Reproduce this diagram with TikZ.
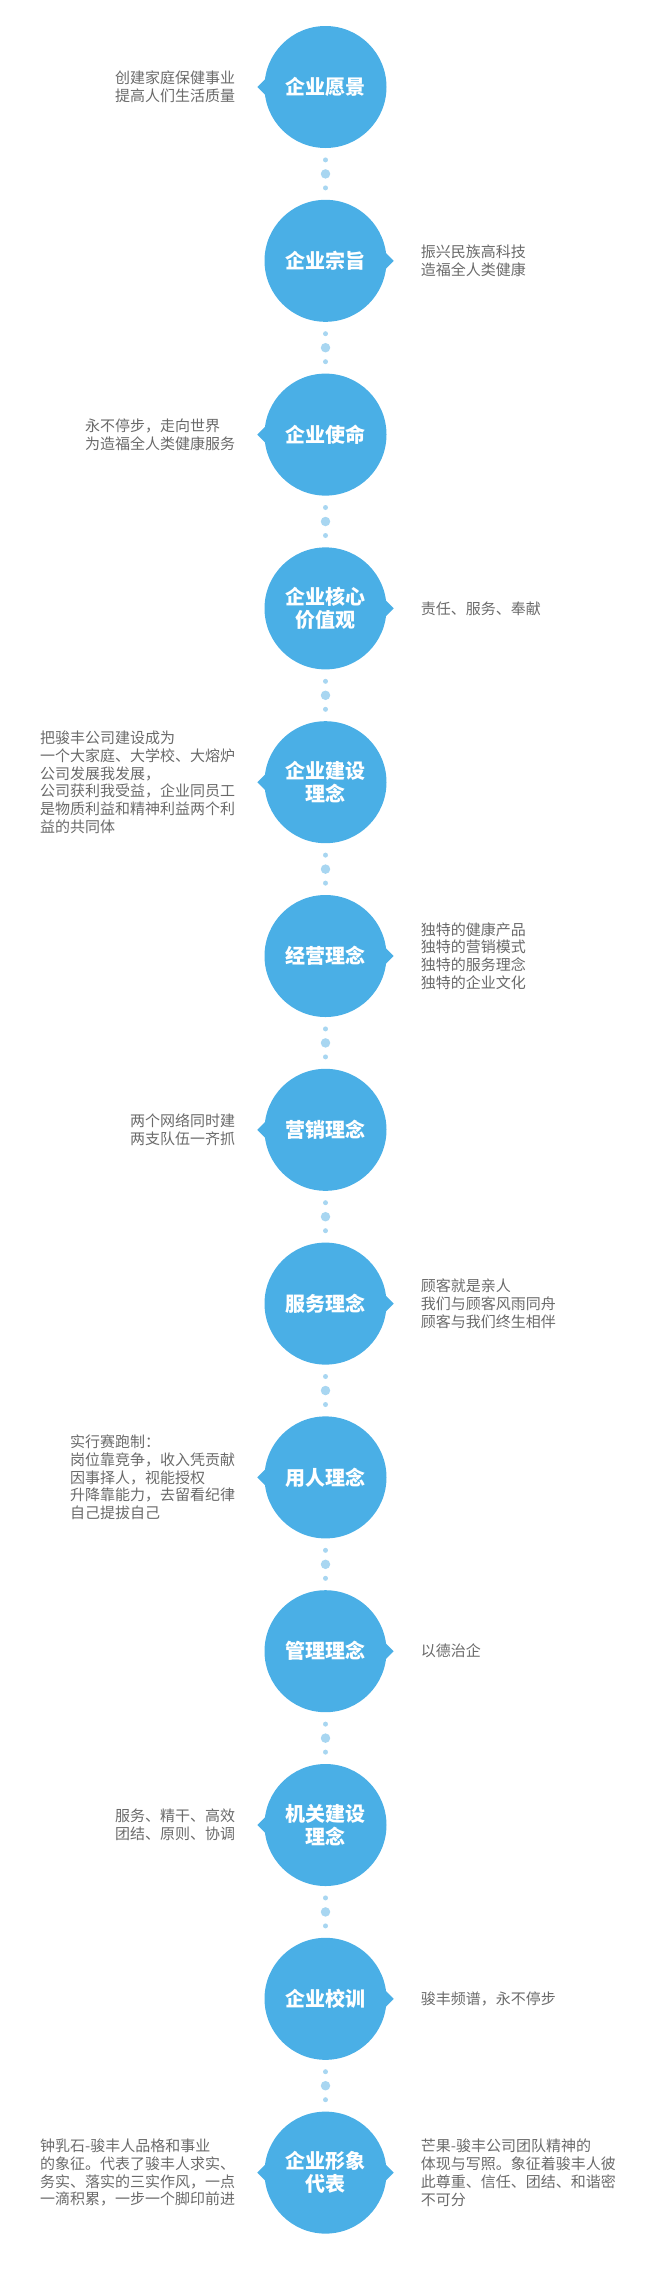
\documentclass[tikz,border=0pt]{standalone}
\usepackage{fontspec}
\newfontfamily\cjk{Noto Sans CJK SC}
\usetikzlibrary{positioning,calc}
\definecolor{bubbleblue}{HTML}{4AAFE6}
\definecolor{dotblue}{HTML}{A8D6F1}
\definecolor{txtgray}{HTML}{6A6A6A}
\tikzset{
  bubble/.style={circle,fill=bubbleblue,minimum size=122pt,inner sep=0pt,
    text=white,font=\cjk\bfseries\fontsize{20pt}{23pt}\selectfont,align=center},
  btip/.style={fill=bubbleblue},
  note/.style={text=txtgray,font=\cjk\fontsize{15pt}{17.8pt}\selectfont,
    align=left,inner sep=0pt},
  sdot/.style={circle,fill=dotblue,minimum size=5pt,inner sep=0pt},
  bdot/.style={circle,fill=dotblue,minimum size=9.5pt,inner sep=0pt},
}

\begin{document}
\begin{tikzpicture}[x=1pt,y=-1pt]
  \useasboundingbox (0,0) rectangle (651,2279);
  % thirteen bubbles down the middle
  \foreach \lbl [count=\i] in {企业愿景,企业宗旨,企业使命,{企业核心\\价值观},
      {企业建设\\理念},经营理念,营销理念,服务理念,用人理念,管理理念,
      {机关建设\\理念},企业校训,{企业形象\\代表}}{
    \pgfmathsetmacro{\y}{87+173.8*(\i-1)}
    \node[bubble] (c\i) at (325.5,\y) {\lbl};
  }
  % speech-bubble tips
  \foreach \i in {1,3,5,7,9,11,13}{
    \fill[btip] ($(c\i.west)+(-7,0)$) -- ++(10,-10) -- ++(0,20) -- cycle;
  }
  \foreach \i in {2,4,6,8,10,12,13}{
    \fill[btip] ($(c\i.east)+(7,0)$) -- ++(-10,-10) -- ++(0,20) -- cycle;
  }
  % dotted links
  \foreach \i [evaluate=\i as \j using int(\i+1)] in {1,...,12}{
    \path (c\i) -- (c\j)
      node[midway,bdot] (m\i) {}
      node[midway,yshift=14pt,sdot] (u\i) {}
      node[midway,yshift=-14pt,sdot] (l\i) {};
  }
  % side texts
  \node[note,left=29pt of c1] (t1) {创建家庭保健事业\\提高人们生活质量};
  \node[note,right=34pt of c2] (t2) {振兴民族高科技\\造福全人类健康};
  \node[note,left=29pt of c3] (t3) {永不停步，走向世界\\为造福全人类健康服务};
  \node[note,right=34pt of c4] (t4) {责任、服务、奉献};
  \node[note,left=29pt of c5] (t5) {把骏丰公司建设成为\\一个大家庭、大学校、大熔炉\\公司发展我发展，\\
    公司获利我受益，企业同员工\\是物质利益和精神利益两个利\\益的共同体};
  \node[note,right=34pt of c6] (t6) {独特的健康产品\\独特的营销模式\\独特的服务理念\\独特的企业文化};
  \node[note,left=29pt of c7] (t7) {两个网络同时建\\两支队伍一齐抓};
  \node[note,right=34pt of c8] (t8) {顾客就是亲人\\我们与顾客风雨同舟\\顾客与我们终生相伴};
  \node[note,left=29pt of c9] (t9) {实行赛跑制：\\岗位靠竞争，收入凭贡献\\因事择人，视能授权\\
    升降靠能力，去留看纪律\\自己提拔自己};
  \node[note,right=34pt of c10] (t10) {以德治企};
  \node[note,left=29pt of c11] (t11) {服务、精干、高效\\团结、原则、协调};
  \node[note,right=34pt of c12] (t12) {骏丰频谱，永不停步};
  \node[note,left=29pt of c13] (t13a) {钟乳石-骏丰人品格和事业\\的象征。代表了骏丰人求实、\\
    务实、落实的三实作风，一点\\一滴积累，一步一个脚印前进};
  \node[note,right=34pt of c13] (t13b) {芒果-骏丰公司团队精神的\\体现与写照。象征着骏丰人彼\\
    此尊重、信任、团结、和谐密\\不可分};
\end{tikzpicture}
\end{document}
